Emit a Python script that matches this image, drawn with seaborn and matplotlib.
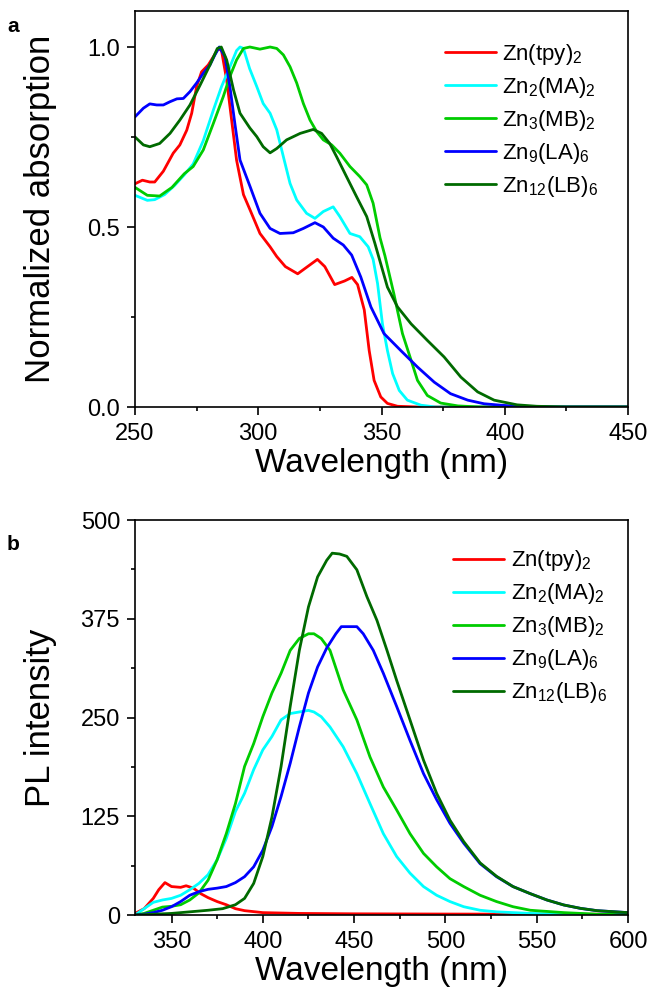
import numpy as np
import pandas as pd
import matplotlib
matplotlib.use('Agg')
import matplotlib.pyplot as plt
import seaborn as sns
from matplotlib.ticker import MultipleLocator, FormatStrFormatter

sns.set_style("ticks")
plt.rcParams['font.family'] = ['Liberation Sans', 'DejaVu Sans']
plt.rcParams['mathtext.default'] = 'regular'
plt.rcParams['axes.linewidth'] = 1.2
for key in ['text.color', 'axes.labelcolor', 'xtick.color', 'ytick.color', 'axes.edgecolor']:
    plt.rcParams[key] = 'black'

labels = ['Zn(tpy)$_2$', 'Zn$_2$(MA)$_2$', 'Zn$_3$(MB)$_2$', 'Zn$_9$(LA)$_6$', 'Zn$_{12}$(LB)$_6$']
colors = ['#FF0000', '#00FFFF', '#00CC00', '#0000FF', '#006A00']

# ---- absorption (panel a) ----
abs_tpy_wl = [250, 253, 256, 258, 261.5, 265.5, 268.2, 271, 273, 275, 277, 279.7, 281.8, 283.8, 285.1, 287.2,
              289.2, 291.2, 294, 296.7, 300.7, 304.8, 307.5, 311, 316, 320, 324, 327, 331, 335, 338, 340.3, 343,
              345, 347, 349.7, 352.4, 356.5, 365, 450]
abs_tpy = [0.62, 0.63, 0.625, 0.625, 0.655, 0.705, 0.728, 0.769, 0.816, 0.89, 0.931, 0.95, 0.973, 0.996, 0.99,
           0.908, 0.797, 0.686, 0.59, 0.547, 0.482, 0.445, 0.418, 0.39, 0.37, 0.39, 0.41, 0.39, 0.34, 0.35, 0.36,
           0.34, 0.27, 0.157, 0.074, 0.028, 0.01, 0.002, 0.0, 0.0]

abs_ma_wl = [250, 255, 258, 262, 266, 270, 273.6, 277.7, 281.8, 285.1, 288.5, 291.2, 292.6, 294, 296.5, 299.4,
             302, 304.8, 307.5, 310.2, 312.9, 315.6, 319.6, 323, 326.4, 330.4, 333.1, 337.2, 341.2, 344.6, 346.6,
             348.4, 350.4, 352.4, 354.5, 357.2, 360.5, 366, 372, 450]
abs_ma = [0.588, 0.574, 0.576, 0.59, 0.615, 0.645, 0.675, 0.74, 0.825, 0.89, 0.945, 0.99, 1.0, 0.996, 0.94, 0.89,
          0.843, 0.816, 0.77, 0.695, 0.621, 0.575, 0.538, 0.524, 0.543, 0.556, 0.529, 0.482, 0.473, 0.445, 0.41,
          0.343, 0.23, 0.157, 0.093, 0.046, 0.019, 0.005, 0.0, 0.0]

abs_mb_wl = [250, 255, 260, 265, 270, 273.6, 277.7, 281.8, 285.8, 288.5, 291.2, 294, 296.6, 300.7, 304.8, 307.5,
             310.2, 312.9, 315.6, 318.3, 321, 323.7, 326.4, 329.8, 333.1, 337.2, 341.2, 344, 346.6, 349.4, 351.4,
             355, 358.5, 362, 364.6, 368.6, 374, 381, 390, 450]
abs_mb = [0.61, 0.588, 0.586, 0.61, 0.648, 0.668, 0.714, 0.788, 0.862, 0.918, 0.964, 0.996, 1.0, 0.994, 1.0,
          0.996, 0.978, 0.945, 0.9, 0.843, 0.797, 0.765, 0.742, 0.728, 0.705, 0.668, 0.64, 0.617, 0.566, 0.47,
          0.42, 0.315, 0.204, 0.13, 0.074, 0.032, 0.011, 0.003, 0.0, 0.0]

abs_la_wl = [250, 253.4, 256, 258.8, 261.5, 264.2, 267, 269.6, 272.3, 275, 277.7, 280.4, 282.4, 284.2, 286.5,
             288.5, 290.5, 292.6, 296.7, 300.7, 304.8, 308.8, 314.2, 318.3, 323, 326.4, 330.4, 334.5, 337.9,
             341.6, 345.7, 351, 357.8, 364.6, 371.4, 378, 385, 391.6, 398.4, 405, 420, 450]
abs_la = [0.806, 0.83, 0.842, 0.839, 0.839, 0.848, 0.856, 0.857, 0.876, 0.9, 0.927, 0.95, 0.978, 1.0, 0.973,
          0.89, 0.788, 0.686, 0.612, 0.538, 0.496, 0.482, 0.484, 0.496, 0.512, 0.5, 0.469, 0.45, 0.422, 0.361,
          0.278, 0.204, 0.157, 0.111, 0.069, 0.037, 0.019, 0.009, 0.005, 0.002, 0.0, 0.0]

abs_lb_wl = [250, 253.4, 256, 260, 264.2, 268.2, 272.3, 276.4, 280.4, 283.4, 285, 287.2, 290, 292.6, 296.6,
             299.4, 302, 304.8, 307.5, 311.5, 317, 322.3, 325.7, 329, 331.8, 335.8, 339.9, 344, 347.3, 352.4,
             356.5, 362, 368.6, 375.4, 382.2, 389, 395.7, 405, 413, 425, 450]
abs_lb = [0.75, 0.728, 0.723, 0.732, 0.76, 0.797, 0.839, 0.894, 0.95, 0.996, 1.0, 0.964, 0.88, 0.816, 0.775,
          0.751, 0.723, 0.706, 0.718, 0.742, 0.76, 0.771, 0.76, 0.732, 0.695, 0.64, 0.584, 0.529, 0.455, 0.333,
          0.278, 0.231, 0.185, 0.139, 0.083, 0.042, 0.019, 0.006, 0.002, 0.0, 0.0]

# ---- photoluminescence (panel b) ----
pl_tpy_wl = [330, 335, 340, 343, 346.4, 350, 355, 358, 362, 366, 370, 375, 380, 385, 390, 400, 420, 450, 500,
             550, 600]
pl_tpy = [2, 8, 21, 32, 41, 36, 35, 37, 34, 27, 22, 17, 13, 8, 5.5, 3, 2, 1.5, 1.2, 1, 1]

pl_ma_wl = [330, 335, 340, 345, 350, 355, 360, 365, 370, 375, 380, 385, 390, 395, 400, 405, 410, 415, 420, 425,
            428, 432, 436.8, 444, 451.5, 458.7, 466, 473.3, 480.6, 488, 495.2, 502.5, 510, 519, 528, 546.5, 565,
            600]
pl_ma = [0, 8, 16, 19, 21, 25, 32, 40, 51, 70, 97, 131, 154, 184, 209, 226, 247, 255, 257, 259, 257, 251, 238,
         213, 179, 141, 103, 74, 53, 36, 25, 17, 10.5, 6, 4, 2, 1, 0.5]

pl_mb_wl = [330, 335, 340, 345, 350, 355, 360, 365, 370, 375, 380, 385, 390, 395, 400, 405, 410, 415, 420, 425,
            428, 432, 436.8, 444, 451.5, 458.7, 466, 473.3, 480.6, 488, 495.2, 502.5, 510, 519, 528, 537, 546.5,
            565, 583, 600]
pl_mb = [0, 2, 6, 10, 11, 13, 19, 28, 44, 70, 103, 141, 188, 217, 251, 281, 306, 335, 350, 356, 356, 350, 335,
         285, 247, 200, 162, 133, 103, 78, 61, 46, 36, 25, 17, 10.5, 6, 3, 1, 0.5]

pl_la_wl = [330, 335, 340, 345, 350, 355, 360, 365, 370, 375, 380, 385, 390, 395, 400, 405, 410, 415, 420, 425,
            430, 435, 440, 443, 451.5, 455, 460.5, 466, 473.3, 480.6, 488, 495.2, 502.5, 510, 519, 528, 537, 546.5,
            555.6, 564.8, 574, 583, 600]
pl_la = [0, 1, 3, 6, 10.5, 17, 25, 29.5, 32.5, 34, 36, 41, 48.5, 61, 82, 112, 150, 192, 238, 281, 314, 338, 356,
         365, 365, 356, 335, 306, 264, 221, 179, 146, 116, 91, 65, 48.5, 36, 27, 19, 12.7, 8.4, 5.5, 3]

pl_lb_wl = [330, 340, 350, 360, 370, 378, 385, 390, 395, 400, 405, 410, 415, 420, 425, 430, 435, 438, 442, 446,
            451.5, 457, 462.5, 468, 473.3, 480.6, 488, 495.2, 502.5, 510, 519, 528, 537, 546.5, 555.6, 564.8, 574,
            583, 600]
pl_lb = [0, 1, 2, 4, 6, 8, 13, 21, 40, 74, 124, 188, 264, 335, 390, 428, 449, 458, 457, 454, 437, 403, 373, 335,
         297, 247, 196, 154, 120, 93, 66, 49, 36, 27, 19, 12.7, 8.4, 5.5, 3]


def long_table(series):
    frames = []
    for name, wl, val in series:
        frames.append(pd.DataFrame({'wl': wl, 'val': val, 'sample': name}))
    return pd.concat(frames, ignore_index=True)


abs_df = long_table(zip(labels, [abs_tpy_wl, abs_ma_wl, abs_mb_wl, abs_la_wl, abs_lb_wl],
                        [abs_tpy, abs_ma, abs_mb, abs_la, abs_lb]))
pl_df = long_table(zip(labels, [pl_tpy_wl, pl_ma_wl, pl_mb_wl, pl_la_wl, pl_lb_wl],
                       [pl_tpy, pl_ma, pl_mb, pl_la, pl_lb]))
palette = dict(zip(labels, colors))

fig = plt.figure(figsize=(6.51, 9.88), dpi=100)
ax1 = fig.add_axes([135 / 651, 1 - 407 / 988, 493 / 651, 396 / 988])
ax2 = fig.add_axes([135 / 651, 1 - 915 / 988, 493 / 651, 395 / 988])


def style_axis(ax, xlim, ylim, xmaj, xmin, ymaj, ymin, ylabel, leg_anchor):
    ax.set_xlim(*xlim)
    ax.set_ylim(*ylim)
    ax.xaxis.set_major_locator(MultipleLocator(xmaj))
    ax.xaxis.set_minor_locator(MultipleLocator(xmin))
    ax.yaxis.set_major_locator(MultipleLocator(ymaj))
    ax.yaxis.set_minor_locator(MultipleLocator(ymin))
    ax.tick_params(which='both', direction='out', top=False, right=False, width=1.2, labelsize=17,
                   colors='black')
    ax.tick_params(axis='x', pad=6)
    ax.tick_params(axis='y', pad=5)
    ax.tick_params(which='major', length=5.8)
    ax.tick_params(which='minor', length=3.2)
    for s in ax.spines.values():
        s.set_visible(True)
        s.set_linewidth(1.2)
        s.set_color('black')
    ax.set_xlabel('Wavelength (nm)', fontsize=24, labelpad=2)
    ax.set_ylabel(ylabel, fontsize=25)
    ax.yaxis.set_label_coords(-0.158, 0.5)
    ax.legend(loc='upper left', bbox_to_anchor=leg_anchor, frameon=False, fontsize=16,
              handlelength=2.3, handletextpad=0.3, labelspacing=0.36, borderpad=0, borderaxespad=0)


sns.lineplot(data=abs_df, x='wl', y='val', hue='sample', hue_order=labels, palette=palette,
             estimator=None, sort=False, lw=2, ax=ax1)
style_axis(ax1, (250, 450), (0, 1.1), 50, 25, 0.5, 0.25, 'Normalized absorption', (0.628, 0.922))
ax1.yaxis.set_major_formatter(FormatStrFormatter('%.1f'))

sns.lineplot(data=pl_df, x='wl', y='val', hue='sample', hue_order=labels, palette=palette,
             estimator=None, sort=False, lw=2, ax=ax2)
style_axis(ax2, (330, 600), (0, 500), 50, 25, 125, 62.5, 'PL intensity', (0.645, 0.928))

fig.text(0.02, 1 - 27 / 988, 'a', fontsize=15, fontweight='bold', ha='center', va='center')
fig.text(0.02, 1 - 545 / 988, 'b', fontsize=15, fontweight='bold', ha='center', va='center')

fig.savefig('out.png', dpi=100)
